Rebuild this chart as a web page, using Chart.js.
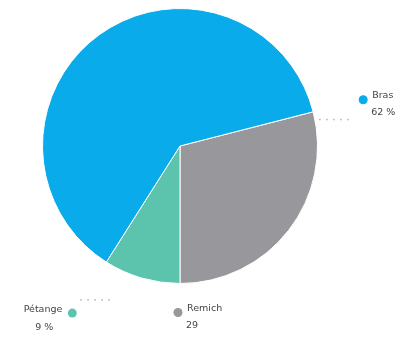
<!DOCTYPE html>
<html>
<head>
<meta charset="utf-8">
<script src="https://cdn.jsdelivr.net/npm/chart.js@4"></script>
<style>
    html, body { margin: 0; padding: 0; background: #fff; }
    #wrap { width: 404px; height: 338px; }
</style>
</head>
<body>
<div id="wrap"><canvas id="pie"></canvas></div>
<script>
// Datos
const categories = ['Remich', 'Pétange', 'Bras'];
const values = [29, 9, 62];
const valueLabels = ['29', '9 %', '62 %'];
const colors = ['#97979c', '#5cc4ad', '#0aabea'];

// Posición de cada etiqueta respecto al final del sector
const labelStyle = [
    { dx: -2, dy: 29, align: 'left', dots: null },
    { dx: -34, dy: 51, align: 'right', dots: { y: -14, x0: 8, x1: 38 } },
    { dx: 50, dy: -12, align: 'left', dots: { y: 19, x0: -44, x1: -14 } }
];

// Plugin para dibujar las etiquetas con su punto de color
const labelPlugin = {
    id: 'sliceLabels',
    afterDatasetsDraw(chart) {
        const ctx = chart.ctx;
        const meta = chart.getDatasetMeta(0);
        ctx.save();
        ctx.font = '9.5px "DejaVu Sans"';
        ctx.textBaseline = 'middle';
        meta.data.forEach((arc, i) => {
            const p = arc.getProps(['x', 'y', 'endAngle', 'outerRadius'], true);
            const ax = p.x + Math.cos(p.endAngle) * p.outerRadius;
            const ay = p.y + Math.sin(p.endAngle) * p.outerRadius;
            const st = labelStyle[i];
            const dotX = ax + st.dx;
            const dotY = ay + st.dy;

            // puntos guía
            if (st.dots) {
                ctx.fillStyle = '#b0b0b0';
                for (let x = dotX + st.dots.x0; x <= dotX + st.dots.x1; x += 7) {
                    ctx.fillRect(x, dotY + st.dots.y, 1.5, 1.5);
                }
            }

            ctx.fillStyle = colors[i];
            ctx.beginPath();
            ctx.arc(dotX, dotY, 4.5, 0, Math.PI * 2);
            ctx.fill();

            ctx.fillStyle = '#444';
            if (st.align === 'left') {
                ctx.textAlign = 'left';
                ctx.fillText(categories[i], dotX + 9, dotY - 4);
                ctx.fillText(valueLabels[i], dotX + 8, dotY + 13);
            } else {
                ctx.textAlign = 'right';
                ctx.fillText(categories[i], dotX - 10, dotY - 4);
                ctx.textAlign = 'center';
                ctx.fillText(valueLabels[i], dotX - 28, dotY + 14);
            }
        });
        ctx.restore();
    }
};

new Chart(document.getElementById('pie').getContext('2d'), {
    type: 'pie',
    data: {
        labels: categories,
        datasets: [{
            data: values,
            backgroundColor: colors,
            borderColor: '#ffffff',
            borderWidth: 1
        }]
    },
    options: {
        responsive: true,
        maintainAspectRatio: false,
        animation: false,
        rotation: 75.6,
        layout: { padding: { left: 42, right: 86, top: 8, bottom: 54 } },
        plugins: {
            legend: { display: false },
            tooltip: { enabled: false }
        }
    },
    plugins: [labelPlugin]
});
</script>
</body>
</html>
